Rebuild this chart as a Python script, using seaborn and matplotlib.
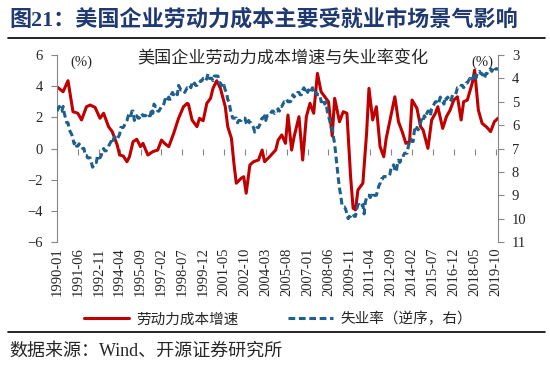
"""
US labor cost growth vs unemployment rate (inverted)
"""
import matplotlib
matplotlib.use('Agg')
import matplotlib.pyplot as plt
from matplotlib.lines import Line2D
import seaborn as sns
import pandas as pd


# labor cost growth (%)
cost_months = [
    '1990-01', '1990-06', '1990-10', '1991-02', '1991-06', '1991-09', '1992-01', '1992-04',
    '1992-08', '1992-12', '1993-03', '1993-07', '1993-10', '1994-02', '1994-04', '1994-07',
    '1994-10', '1994-12', '1995-03', '1995-06', '1995-09', '1995-11', '1996-03', '1996-07',
    '1996-11', '1997-02', '1997-05', '1997-08', '1997-12', '1998-04', '1998-08', '1998-11',
    '1998-12', '1999-03', '1999-07', '1999-09', '1999-12', '2000-03', '2000-06', '2000-08',
    '2000-11', '2001-02', '2001-06', '2001-08', '2001-11', '2002-01', '2002-03', '2002-07',
    '2002-09', '2002-11', '2003-02', '2003-05', '2003-09', '2003-12', '2004-02', '2004-06',
    '2004-11', '2005-01', '2005-04', '2005-07', '2005-09', '2005-12', '2006-02', '2006-06',
    '2006-09', '2006-12', '2007-03', '2007-06', '2007-09', '2007-12', '2008-03', '2008-06',
    '2008-09', '2008-11', '2009-03', '2009-06', '2009-09', '2009-12', '2010-02', '2010-04',
    '2010-06', '2010-10', '2011-01', '2011-03', '2011-06', '2011-09', '2011-12', '2012-03',
    '2012-05', '2012-07', '2012-12', '2013-03', '2013-06', '2013-09', '2013-12', '2014-02',
    '2014-06', '2014-09', '2014-11', '2015-03', '2015-06', '2015-09', '2015-11', '2016-03',
    '2016-06', '2016-09', '2016-12', '2017-03', '2017-06', '2017-08', '2017-11', '2018-03',
    '2018-05', '2018-08', '2018-11', '2019-03', '2019-06', '2019-09', '2019-12',
]
cost_growth = [
    3.96, 3.64, 4.35, 2.36, 2.26, 1.83, 2.68, 2.79,
    2.64, 1.94, 2.26, 1.40, 1.08, 0.22, -0.42, -0.48,
    -0.85, -0.53, 0.44, 0.59, 0.12, 0.33, -0.42, -0.20,
    -0.10, 0.54, 0.30, 0.12, 0.97, 1.94, 2.68, 2.90,
    2.85, 1.83, 1.40, 1.94, 1.78, 2.90, 3.22, 3.86,
    4.35, 3.86, 2.68, 1.40, 0.65, -0.95, -2.23, -1.91,
    -1.81, -2.87, -1.06, -0.85, -0.74, -0.10, -0.85, -0.53,
    -0.10, 0.54, 0.87, 0.33, 2.15, -0.10, 0.76, 2.04,
    -0.74, 2.04, 2.90, 2.26, 4.82, 3.64, 3.32, 3.00,
    0.80, 3.22, 1.72, 2.36, 2.26, -1.81, -3.83, -3.94,
    -2.66, -2.23, 0.97, 3.86, 1.83, 2.68, 0.12, -0.53,
    0.65, 1.40, 3.32, 1.72, 1.08, 0.33, 0.44, 3.11,
    2.58, 1.40, 1.19, 0.01, 1.83, 2.26, 2.68, 1.29,
    2.04, 2.47, 3.11, 3.32, 1.83, 3.00, 3.11, 4.18,
    5.03, 2.47, 1.62, 1.36, 1.08, 1.72, 1.94,
]

# unemployment rate (%), monthly 1990-01 .. 2019-12
unemp_rate = [
    5.4, 5.3, 5.2, 5.4, 5.4, 5.2, 5.5, 5.7, 5.9, 5.9, 6.2, 6.3,
    6.4, 6.6, 6.8, 6.7, 6.9, 6.9, 6.8, 6.9, 6.9, 7.0, 7.0, 7.3,
    7.3, 7.4, 7.4, 7.4, 7.6, 7.8, 7.7, 7.6, 7.6, 7.3, 7.4, 7.4,
    7.3, 7.1, 7.0, 7.1, 7.1, 7.0, 6.9, 6.8, 6.7, 6.8, 6.6, 6.5,
    6.6, 6.6, 6.5, 6.4, 6.1, 6.1, 6.1, 6.0, 5.9, 5.8, 5.6, 5.5,
    5.6, 5.4, 5.4, 5.8, 5.6, 5.6, 5.7, 5.7, 5.6, 5.5, 5.6, 5.6,
    5.6, 5.5, 5.5, 5.6, 5.6, 5.3, 5.5, 5.1, 5.2, 5.2, 5.4, 5.4,
    5.3, 5.2, 5.2, 5.1, 4.9, 5.0, 4.9, 4.8, 4.9, 4.7, 4.6, 4.7,
    4.6, 4.6, 4.7, 4.3, 4.4, 4.5, 4.5, 4.5, 4.6, 4.5, 4.4, 4.4,
    4.3, 4.4, 4.2, 4.3, 4.2, 4.3, 4.3, 4.2, 4.2, 4.1, 4.1, 4.0,
    4.0, 4.1, 4.0, 3.8, 4.0, 4.0, 4.0, 4.1, 3.9, 3.9, 3.9, 3.9,
    4.2, 4.2, 4.3, 4.4, 4.3, 4.5, 4.6, 4.9, 5.0, 5.3, 5.5, 5.7,
    5.7, 5.7, 5.7, 5.9, 5.8, 5.8, 5.8, 5.7, 5.7, 5.7, 5.9, 6.0,
    5.8, 5.9, 5.9, 6.0, 6.1, 6.3, 6.2, 6.1, 6.1, 6.0, 5.8, 5.7,
    5.7, 5.6, 5.8, 5.6, 5.6, 5.6, 5.5, 5.4, 5.4, 5.5, 5.4, 5.4,
    5.3, 5.4, 5.2, 5.2, 5.1, 5.0, 5.0, 4.9, 5.0, 5.0, 5.0, 4.9,
    4.7, 4.8, 4.7, 4.7, 4.6, 4.6, 4.7, 4.7, 4.5, 4.4, 4.5, 4.4,
    4.6, 4.5, 4.4, 4.5, 4.4, 4.6, 4.7, 4.6, 4.7, 4.7, 4.7, 5.0,
    5.0, 4.9, 5.1, 5.0, 5.4, 5.6, 5.8, 6.1, 6.1, 6.5, 6.8, 7.3,
    7.8, 8.3, 8.7, 9.0, 9.4, 9.5, 9.5, 9.6, 9.8, 10.0, 9.9, 9.9,
    9.8, 9.8, 9.9, 9.9, 9.6, 9.4, 9.4, 9.5, 9.5, 9.4, 9.8, 9.3,
    9.1, 9.0, 9.0, 9.1, 9.0, 9.1, 9.0, 9.0, 9.0, 8.8, 8.6, 8.5,
    8.3, 8.3, 8.2, 8.2, 8.2, 8.2, 8.2, 8.1, 7.8, 7.8, 7.7, 7.9,
    8.0, 7.7, 7.5, 7.6, 7.5, 7.5, 7.3, 7.2, 7.2, 7.2, 6.9, 6.7,
    6.6, 6.7, 6.7, 6.2, 6.3, 6.1, 6.2, 6.1, 5.9, 5.7, 5.8, 5.6,
    5.7, 5.5, 5.4, 5.4, 5.6, 5.3, 5.2, 5.1, 5.0, 5.0, 5.1, 5.0,
    4.8, 4.9, 5.0, 5.1, 4.8, 4.9, 4.8, 4.9, 5.0, 4.9, 4.7, 4.7,
    4.7, 4.6, 4.4, 4.4, 4.4, 4.3, 4.3, 4.4, 4.3, 4.2, 4.2, 4.1,
    4.0, 4.1, 4.0, 4.0, 3.8, 4.0, 3.8, 3.8, 3.7, 3.8, 3.8, 3.9,
    4.0, 3.8, 3.8, 3.7, 3.6, 3.6, 3.7, 3.6, 3.5, 3.6, 3.6, 3.6,
]

tick_dates = pd.date_range('1990-01-01', periods=22, freq='17MS')
tick_labels = [d.strftime('%Y-%m') for d in tick_dates]

RED = '#c00000'
BLUE = '#1f5f8b'
GRAY = '#868686'
CJK = ['Noto Sans CJK SC', 'DejaVu Sans']

sns.set_style('white')
plt.rcParams['font.family'] = ['Liberation Serif', 'Noto Sans CJK SC']

cost_df = pd.DataFrame({'date': pd.to_datetime(cost_months), 'value': cost_growth})
unemp_df = pd.DataFrame({'date': pd.date_range('1990-01-01', periods=len(unemp_rate), freq='MS'),
                         'value': unemp_rate})

fig = plt.figure(figsize=(5.5, 3.69), dpi=100)
ax = fig.add_axes([57 / 550, 1 - 242 / 369, 441 / 550, 187 / 369])
ax2 = ax.twinx()

sns.lineplot(data=cost_df, x='date', y='value', ax=ax, color=RED, lw=2.2,
             label='劳动力成本增速', legend=False)
sns.lineplot(data=unemp_df, x='date', y='value', ax=ax2, color=BLUE, lw=2.2,
             linestyle=(0, (2.2, 1.2)), label='失业率（逆序，右）', legend=False)

ax.set_xlim(pd.Timestamp('1990-01-01'), pd.Timestamp('2019-12-01'))
ax.set_ylim(-6, 6)
ax.set_yticks(range(-6, 7, 2))
ax2.set_ylim(11, 3)
ax2.set_yticks(range(3, 12))
for a in (ax, ax2):
    a.set_xlabel('')
    a.set_ylabel('')
    a.spines['top'].set_visible(False)
    a.spines['bottom'].set_visible(False)
ax.spines['right'].set_visible(False)
ax2.spines['left'].set_visible(False)
ax.spines['left'].set_color(GRAY)
ax2.spines['right'].set_color(GRAY)

ax.set_xticks(tick_dates)
ax.set_xticklabels(tick_labels, rotation=90)
ax.tick_params(axis='x', length=0, pad=4, labelsize=10.5)
ax.tick_params(axis='y', direction='out', length=4, color=GRAY, labelsize=10.5, pad=6)
ax2.tick_params(axis='y', direction='out', length=4, color=GRAY, labelsize=10.5, pad=6)

# zero line with its own tick marks
zero = ax.secondary_xaxis(0.5)
zero.set_xticks(tick_dates)
zero.tick_params(axis='x', direction='out', length=4, color=GRAY,
                 labelbottom=False, labeltop=False, bottom=True, top=False)
zero.spines['bottom'].set_color(GRAY)
zero.spines['top'].set_visible(False)

fig.text(70 / 550, 1 - 62 / 369, '(%)', fontsize=10.5, va='center')
fig.text(482 / 550, 1 - 62 / 369, '(%)', fontsize=10.5, va='center', ha='center')
fig.text(283 / 550, 1 - 58 / 369, '美国企业劳动力成本增速与失业率变化',
         fontsize=12.3, ha='center', va='center', family=CJK)

fig.text(9 / 550, 1 - 20 / 369, '图21：美国企业劳动力成本主要受就业市场景气影响',
         fontsize=15.9, fontweight='bold', color='#1f3a70', va='center')
fig.add_artist(Line2D([8 / 550, 545 / 550], [1 - 38 / 369] * 2, color='black', lw=1.2))
fig.add_artist(Line2D([8 / 550, 545 / 550], [1 - 332 / 369] * 2, color='black', lw=1.2))
fig.text(9 / 550, 1 - 351 / 369, '数据来源：Wind、开源证券研究所', fontsize=13, va='center')

fig.legend(handles=[ax.lines[0], ax2.lines[0]], loc='center',
           bbox_to_anchor=(278 / 550, 1 - 319 / 369), ncol=2, frameon=False,
           prop={'family': CJK, 'size': 10.5}, handlelength=3.1,
           columnspacing=3.4, handletextpad=0.5)

fig.savefig('out.png', dpi=100)
